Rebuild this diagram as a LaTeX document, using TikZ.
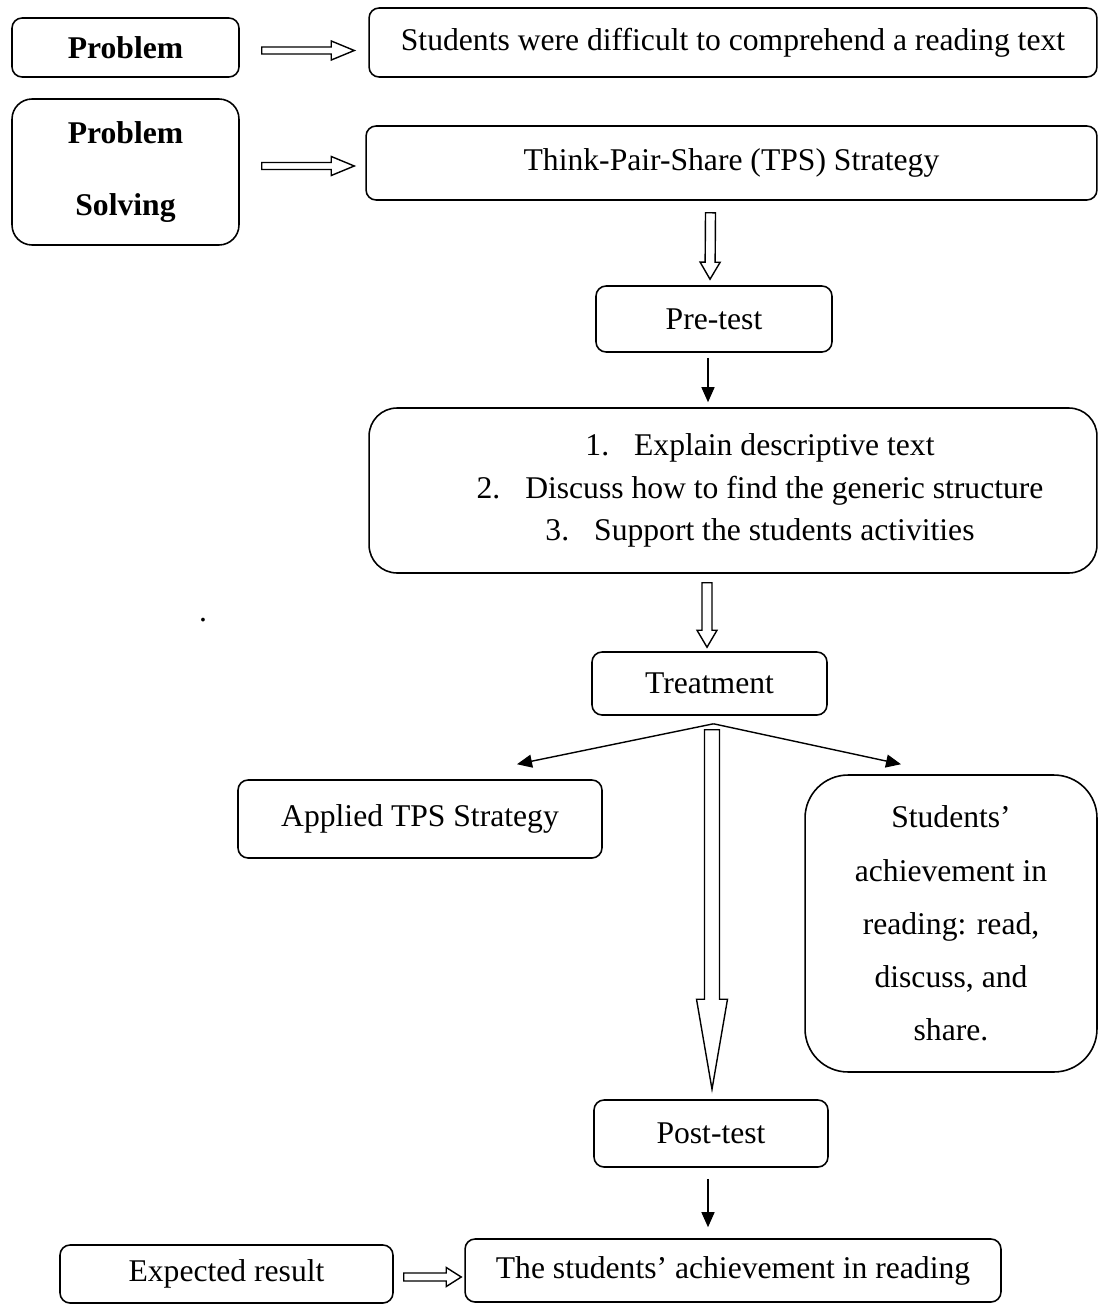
\documentclass[tikz,border=0pt]{standalone}
\usepackage{fontspec}
\setmainfont{Liberation Serif}
\usetikzlibrary{calc,arrows.meta}
\tikzset{
  box/.style={draw,line width=0.9pt,rounded corners=0.2cm,inner sep=0pt,align=center},
}
% hollow block arrow: from, to, half shaft, half head, head length
\newcommand{\hollowarrow}[5]{%
  \coordinate (ha-from) at (#1);
  \coordinate (ha-to) at (#2);
  \coordinate (ha-base) at ($(ha-to)!#5!(ha-from)$);
  \draw[line width=0.8pt,fill=white]
    ($(ha-from)!#3!90:(ha-to)$) -- ($(ha-base)!#3!90:(ha-to)$) -- ($(ha-base)!#4!90:(ha-to)$)
    -- (ha-to) -- ($(ha-base)!#4!-90:(ha-to)$) -- ($(ha-base)!#3!-90:(ha-to)$)
    -- ($(ha-from)!#3!-90:(ha-to)$) -- cycle;}

\begin{document}
\begin{tikzpicture}[x=0.02cm,y=-0.02cm,>={Triangle[length=0.3cm,width=0.26cm]},font=\fontsize{18}{24}\selectfont]
      \useasboundingbox (0,0) rectangle (1099,1304);
      \node[box,minimum width=4.54cm,minimum height=1.18cm,font=\bfseries\fontsize{18}{24}\selectfont] (prob) at (125.5,47.5) {Problem};
      \node[box,rounded corners=0.4cm,minimum width=4.54cm,minimum height=2.92cm,font=\bfseries\fontsize{18}{41.4}\selectfont] (probsol) at (125.5,172) {Problem\\Solving};
      \node[box,minimum width=14.56cm,minimum height=1.38cm] (stud) at (733,42.5) {Students were difficult to comprehend a reading text};
      \node[box,minimum width=14.62cm,minimum height=1.48cm] (tps) at (731.5,163) {Think-Pair-Share (TPS) Strategy};
      \node[box,minimum width=4.72cm,minimum height=1.32cm] (pretest) at (714,319) {Pre-test};
      \node[box,rounded corners=0.56cm,minimum width=14.56cm,minimum height=3.3cm] (list) at (733,490.5)
        {\hspace*{1.08cm}1.\hspace{0.5cm}Explain descriptive text\\
         \hspace*{1.08cm}2.\hspace{0.5cm}Discuss how to find the generic structure\\
         \hspace*{1.08cm}3.\hspace{0.5cm}Support the students activities};
      \node (dot) at (203,620) {.};
      \node[box,minimum width=4.7cm,minimum height=1.26cm] (treat) at (709.5,683.5) {Treatment};
      \node[box,minimum width=7.28cm,minimum height=1.56cm] (applied) at (420,819) {Applied TPS Strategy};
      \node[box,rounded corners=0.86cm,minimum width=5.84cm,minimum height=5.94cm,font=\fontsize{18}{30.3}\selectfont] (achv) at (951,923.5)
        {Students'\\achievement in\\reading: read,\\discuss, and\\share.};
      \node[box,minimum width=4.68cm,minimum height=1.34cm] (post) at (711,1133.5) {Post-test};
      \node[box,minimum width=6.66cm,minimum height=1.16cm] (expect) at (226.5,1274) {Expected result};
      \node[box,minimum width=10.72cm,minimum height=1.26cm] (result) at (733,1270.5) {The students' achievement in reading};
      % hollow arrows
      \hollowarrow{$(prob.east)+(22,3)$}{$(stud.west)+(-14,8)$}{0.07cm}{0.19cm}{0.46cm}
      \hollowarrow{$(probsol.east)+(22,-6)$}{$(tps.west)+(-11,3)$}{0.07cm}{0.19cm}{0.46cm}
      \hollowarrow{$(tps.south)+(-21,12)$}{$(pretest.north)+(-4,-6)$}{0.1cm}{0.2cm}{0.34cm}
      \hollowarrow{$(list.south)+(-26,9)$}{$(treat.north)+(-2.5,-4)$}{0.1cm}{0.2cm}{0.34cm}
      \hollowarrow{$(treat.south)+(2.5,14)$}{$(post.north)+(1,-10)$}{0.15cm}{0.31cm}{1.8cm}
      \hollowarrow{$(expect.east)+(10,3)$}{$(result.west)+(-3,6.5)$}{0.08cm}{0.19cm}{0.3cm}
      % solid arrows
      \coordinate (split) at ($(treat.south)+(4,8)$);
      \draw[->,line width=0.8pt] ($(pretest.south)+(-6,5)$) -- ($(list.north)+(-25,-5)$);
      \draw[->,line width=0.8pt] (split) -- ($(applied.north)+(97,-15)$);
      \draw[->,line width=0.8pt] (split) -- ($(achv.north)+(-50,-10)$);
      \draw[->,line width=0.8pt] ($(post.south)+(-3,11)$) -- ($(result.north)+(-25,-11)$);
    \end{tikzpicture}
\end{document}
